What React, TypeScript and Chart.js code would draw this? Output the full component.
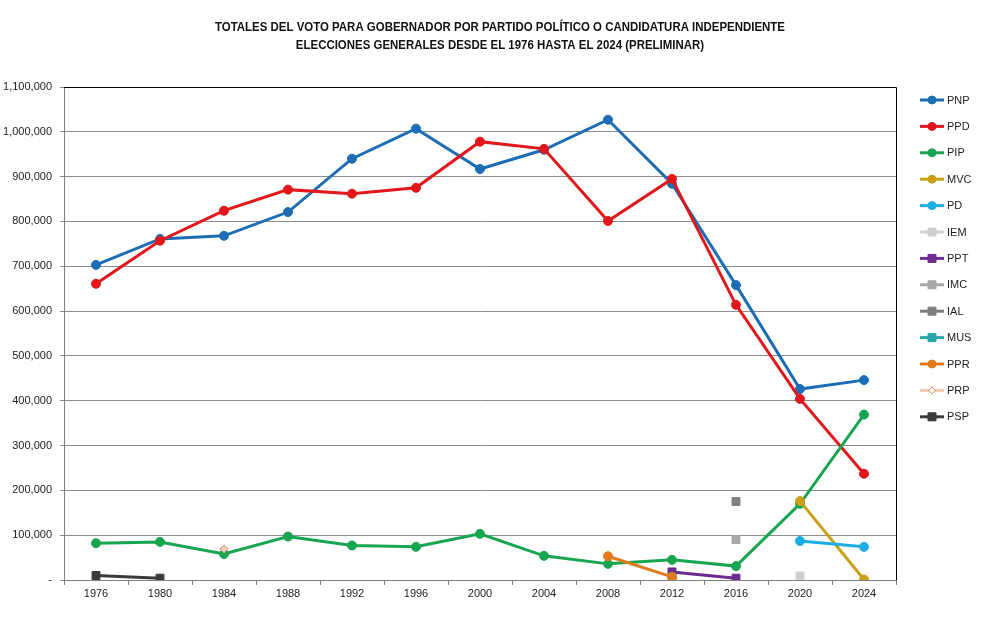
import React, { useEffect, useRef } from 'react';
import { Chart, registerables } from 'chart.js';

Chart.register(...registerables);

const TITLE_LINES = [
  'TOTALES DEL VOTO PARA GOBERNADOR POR PARTIDO POLÍTICO O CANDIDATURA INDEPENDIENTE',
  'ELECCIONES GENERALES DESDE EL 1976 HASTA EL 2024 (PRELIMINAR)',
];

const years = ['1976', '1980', '1984', '1988', '1992', '1996', '2000', '2004', '2008', '2012', '2016', '2020', '2024'];

const PNP = [703000, 761000, 768000, 821000, 940000, 1007000, 917000, 960000, 1027000, 884000, 658000, 426000, 446000];
const PPD = [661000, 757000, 824000, 871000, 862000, 875000, 978000, 962000, 801000, 895000, 614000, 404000, 237000];
const PIP = [82000, 85000, 58000, 97000, 77000, 74000, 103000, 54000, 36000, 45000, 31000, 170000, 369000];
const MVC = [null, null, null, null, null, null, null, null, null, null, null, 176000, 1000];
const PD = [null, null, null, null, null, null, null, null, null, null, null, 87000, 74000];
const IEM = [null, null, null, null, null, null, null, null, null, null, null, 9000, null];
const PPT = [null, null, null, null, null, null, null, null, null, 18000, 4000, null, null];
const IMC = [null, null, null, null, null, null, null, null, null, null, 90000, null, null];
const IAL = [null, null, null, null, null, null, null, null, null, null, 175000, null, null];
const MUS = [null, null, null, null, null, null, null, null, null, 6000, null, null, null];
const PPR = [null, null, null, null, null, null, null, null, 53000, 7000, null, null, null];
const PRP = [null, null, 69000, null, null, null, null, null, null, null, null, null, null];
const PSP = [10000, 4000, null, null, null, null, null, null, null, null, null, null, null];

const seriesNames = ['PNP', 'PPD', 'PIP', 'MVC', 'PD', 'IEM', 'PPT', 'IMC', 'IAL', 'MUS', 'PPR', 'PRP', 'PSP'];
const seriesValues = [PNP, PPD, PIP, MVC, PD, IEM, PPT, IMC, IAL, MUS, PPR, PRP, PSP];
const seriesColors = ['#1C6DB6', '#E3161B', '#17A54F', '#C9A018', '#1BADE6', '#D0D0D0', '#6A2C91', '#A8A8A8', '#7F7F7F', '#27A6A3', '#E27A1C', '#F2CBB0', '#3A3A3A'];
const seriesMarkers = ['circle', 'circle', 'circle', 'circle', 'circle', 'rect', 'rect', 'rect', 'rect', 'rect', 'circle', 'rectRot', 'rect'];

const FONT = 'Arial, "Liberation Sans", sans-serif';

function drawMarker(ctx: CanvasRenderingContext2D, style: string, x: number, y: number, fill: string, stroke: string) {
  ctx.save();
  ctx.fillStyle = fill;
  ctx.strokeStyle = stroke;
  ctx.lineWidth = 1;
  ctx.beginPath();
  if (style === 'circle') {
    ctx.arc(x, y, 4, 0, Math.PI * 2);
  } else if (style === 'rect') {
    ctx.rect(x - 4, y - 4, 8, 8);
  } else {
    ctx.moveTo(x, y - 3.5);
    ctx.lineTo(x + 3.5, y);
    ctx.lineTo(x, y + 3.5);
    ctx.lineTo(x - 3.5, y);
    ctx.closePath();
  }
  ctx.fill();
  ctx.stroke();
  ctx.restore();
}

const decorPlugin = {
  id: 'decor',
  afterDraw(chart: any) {
    const ctx: CanvasRenderingContext2D = chart.ctx;
    const { left, right, top, bottom } = chart.chartArea;
    ctx.save();
    // plot border top/right
    ctx.strokeStyle = '#000';
    ctx.lineWidth = 1;
    ctx.beginPath();
    ctx.moveTo(left, top + 0.5);
    ctx.lineTo(right + 0.5, top + 0.5);
    ctx.lineTo(right + 0.5, bottom);
    ctx.stroke();

    // title
    ctx.fillStyle = '#111';
    ctx.font = 'bold 12px ' + FONT;
    ctx.textAlign = 'center';
    ctx.textBaseline = 'middle';
    const w1 = ctx.measureText(TITLE_LINES[0]).width;
    const sx = 570 / w1;
    TITLE_LINES.forEach((line, i) => {
      ctx.save();
      ctx.translate(500, 28 + i * 18);
      ctx.scale(sx, 1);
      ctx.fillText(line, 0, 0);
      ctx.restore();
    });

    // legend
    ctx.font = '11px ' + FONT;
    ctx.textAlign = 'left';
    seriesNames.forEach((name, i) => {
      const y = 100 + i * 26.4;
      const c = seriesColors[i];
      ctx.strokeStyle = c;
      ctx.lineWidth = 3;
      ctx.beginPath();
      ctx.moveTo(920, y);
      ctx.lineTo(944, y);
      ctx.stroke();
      if (seriesMarkers[i] === 'rectRot') {
        drawMarker(ctx, 'rectRot', 932, y, '#fff', '#D88A5A');
      } else {
        drawMarker(ctx, seriesMarkers[i], 932, y, c, c);
      }
      ctx.fillStyle = '#222';
      ctx.fillText(name, 947, y + 0.5);
    });
    ctx.restore();
  },
};

export default function App() {
  const ref = useRef<HTMLCanvasElement>(null);

  useEffect(() => {
    if (!ref.current) return;
    const datasets = seriesNames.map((name, i) => {
      const c = seriesColors[i];
      const isPRP = seriesMarkers[i] === 'rectRot';
      const isRect = seriesMarkers[i] === 'rect';
      return {
        label: name,
        data: seriesValues[i],
        borderColor: c,
        backgroundColor: c,
        borderWidth: 3,
        pointStyle: seriesMarkers[i],
        pointRadius: isPRP ? 4 : isRect ? 5.6 : 4.5,
        pointBackgroundColor: isPRP ? '#F7CFC0' : c,
        pointBorderColor: isPRP ? '#D89070' : c,
        pointBorderWidth: 1,
        tension: 0,
        spanGaps: false,
        order: -i,
      };
    });
    const chart = new Chart(ref.current, {
      type: 'line',
      data: { labels: years, datasets },
      options: {
        responsive: false,
        animation: false,
        devicePixelRatio: 1,
        layout: { padding: { top: 87, right: 104, bottom: 0, left: 0 } },
        plugins: {
          legend: { display: false },
          title: { display: false },
          tooltip: { enabled: false },
        },
        scales: {
          x: {
            offset: true,
            grid: { offset: true, drawOnChartArea: false, drawTicks: true, tickLength: 5, color: '#808080' },
            border: { display: true, color: '#808080', width: 1 },
            ticks: { color: '#222', font: { family: FONT, size: 11 }, padding: 2, maxRotation: 0, autoSkip: false },
            afterFit: (s: any) => { s.height = 43; },
          },
          y: {
            min: 0,
            max: 1100000,
            grid: { color: '#8C8C8C', lineWidth: 1, drawTicks: true, tickLength: 4 },
            border: { display: true, color: '#808080', width: 1 },
            ticks: {
              stepSize: 100000,
              color: '#222',
              font: { family: FONT, size: 11 },
              padding: 8,
              callback: (v: any) => (Number(v) === 0 ? '-' : Number(v).toLocaleString('en-US')),
            },
            afterFit: (s: any) => { s.width = 64; },
          },
        },
      },
      plugins: [decorPlugin],
    });
    return () => chart.destroy();
  }, []);

  return (
    <div style={{ position: 'absolute', left: 0, top: 0, width: 1000, height: 623, background: '#fff' }}>
      <canvas ref={ref} width={1000} height={623} style={{ display: 'block' }} />
    </div>
  );
}
